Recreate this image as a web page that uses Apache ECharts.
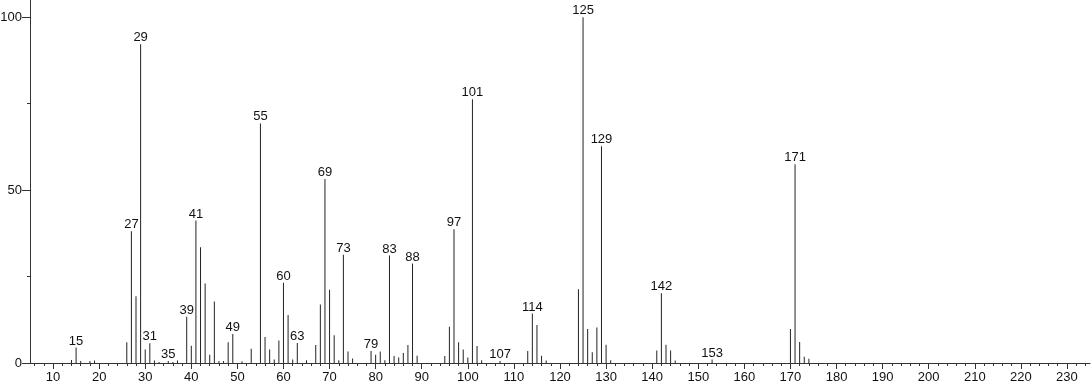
<!DOCTYPE html>
<html>
<head>
<meta charset="utf-8">
<script src="https://cdn.jsdelivr.net/npm/echarts@6/dist/echarts.min.js"></script>
<style>
html,body{margin:0;padding:0;background:#fff;}
#chart{width:1091px;height:387px;}
</style>
</head>
<body>
<div id="chart"></div>
<script>
// m/z values
const mz = [14,15,16,18,19,26,27,28,29,30,31,32,33,35,36,37,39,40,41,42,43,44,45,46,47,48,49,51,53,55,56,57,58,59,60,61,62,63,65,67,68,69,70,71,72,73,74,75,79,80,81,82,83,84,85,86,87,88,89,95,96,97,98,99,100,101,102,103,107,113,114,115,116,117,124,125,126,127,128,129,130,131,141,142,143,144,145,153,170,171,172,173,174];
// relative intensities
const intensity = [0.9,4.5,0.6,0.6,0.7,6.0,38.1,19.3,92.2,3.9,5.7,0.7,0.3,0.6,0.3,0.7,13.4,5.0,41.2,33.5,23.0,2.4,17.8,0.6,0.6,6.0,8.4,0.5,4.1,69.3,7.5,3.9,1.0,6.5,23.2,13.9,1.0,5.8,0.8,5.2,16.9,53.2,21.2,8.0,0.8,31.3,3.3,1.3,3.5,2.4,3.3,0.8,31.1,2.0,1.6,2.9,5.2,28.8,2.1,2.0,10.5,38.7,6.0,3.9,1.6,76.3,4.9,0.8,0.6,3.5,14.3,11.0,2.1,0.7,21.3,100,9.8,3.1,10.3,62.7,5.3,0.8,3.6,20.2,5.3,3.6,0.7,1.0,9.8,57.5,6.1,1.8,1.2];
// peaks that carry a label
const labelledPeaks = [15,27,29,31,35,39,41,49,55,60,63,69,73,79,83,88,97,101,107,114,125,129,142,153,171];
// tick values
const xMajorTicks = [10,20,30,40,50,60,70,80,90,100,110,120,130,140,150,160,170,180,190,200,210,220,230];
const xMinorTicks = [6,8,12,14,16,18,22,24,26,28,32,34,36,38,42,44,46,48,52,54,56,58,62,64,66,68,72,74,76,78,82,84,86,88,92,94,96,98,102,104,106,108,112,114,116,118,122,124,126,128,132,134,136,138,142,144,146,148,152,154,156,158,162,164,166,168,172,174,176,178,182,184,186,188,192,194,196,198,202,204,206,208,212,214,216,218,222,224,226,228,232,234];
const yMajorTicks = [0,50,100];
const yMinorTicks = [25,75];

const FONT = 'Liberation Sans';
const chart = echarts.init(document.getElementById('chart'), null, {renderer:'canvas'});

const data = mz.map((m, i) => ({
  value: [m, intensity[i]],
  label: { show: labelledPeaks.indexOf(m) >= 0 }
}));

chart.setOption({
  animation: false,
  backgroundColor: '#fff',
  grid: { left: 30, right: 1, top: 0, bottom: 24, containLabel: false, outerBoundsMode: 'none' },
  xAxis: [{
    type: 'value', min: 5, max: 235,
    axisLine: { show: true, lineStyle: { color: '#333', width: 1 } },
    axisTick: { show: true, length: 6, customValues: xMajorTicks, lineStyle: { color: '#333' } },
    axisLabel: { show: true, customValues: xMajorTicks, margin: 8, color: '#111', fontFamily: FONT, fontSize: 13 },
    splitLine: { show: false }
  }, {
    type: 'value', min: 5, max: 235, position: 'bottom',
    axisLine: { show: false },
    axisTick: { show: true, length: 3, customValues: xMinorTicks, lineStyle: { color: '#333' } },
    axisLabel: { show: false },
    splitLine: { show: false }
  }],
  yAxis: [{
    type: 'value', min: 0, max: 105,
    axisLine: { show: true, lineStyle: { color: '#333', width: 1 } },
    axisTick: { show: true, length: 8, customValues: yMajorTicks, lineStyle: { color: '#333' } },
    axisLabel: { show: true, customValues: yMajorTicks, margin: 8, color: '#111', fontFamily: FONT, fontSize: 13 },
    splitLine: { show: false }
  }, {
    type: 'value', min: 0, max: 105, position: 'left', alignTicks: false,
    axisLine: { show: false },
    axisTick: { show: true, length: 3, customValues: yMinorTicks, lineStyle: { color: '#333' } },
    axisLabel: { show: false },
    splitLine: { show: false }
  }],
  series: [{
    type: 'bar',
    xAxisIndex: 0, yAxisIndex: 0,
    barWidth: 1,
    itemStyle: { color: '#222' },
    label: {
      position: 'top', distance: 0,
      formatter: p => String(p.value[0]),
      color: '#111', fontFamily: FONT, fontSize: 13
    },
    data: data
  }]
});
</script>
</body>
</html>
